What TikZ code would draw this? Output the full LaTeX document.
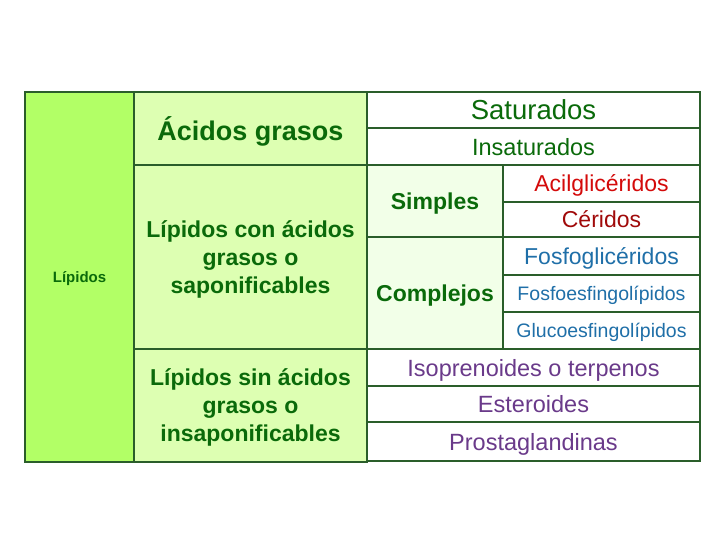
\documentclass[tikz,border=0pt]{standalone}
\usepackage{fontspec}
\setmainfont{Liberation Sans}
\usetikzlibrary{positioning}

\definecolor{lima}{HTML}{B2FF66}
\definecolor{limaclara}{HTML}{DDFFB2}
\definecolor{verdepalido}{HTML}{F2FFE8}
\definecolor{borde}{HTML}{2A5E2A}
\definecolor{verdetexto}{HTML}{0A6A0A}
\definecolor{rojo}{HTML}{D40A0A}
\definecolor{granate}{HTML}{A00A0A}
\definecolor{azul}{HTML}{1F6FA8}
\definecolor{morado}{HTML}{6A3A8A}

\newcommand{\tam}[2]{\fontsize{#1}{#2}\selectfont}

\tikzset{
  cell/.style={draw=borde, line width=1.2pt, anchor=north west, inner sep=0pt, outer sep=0pt, align=center, text depth=0pt},
  hoja/.style={cell, fill=white, minimum width=333pt}
}

\begin{document}
\begin{tikzpicture}[x=1pt,y=-1pt]
        \useasboundingbox (0,0) rectangle (720,540);
        % left column
        \node[cell, fill=lima, minimum width=109pt, minimum height=370pt, text=verdetexto, font=\tam{15}{18}\bfseries] (lip) at (25,92) {Lípidos};
        % second column
        \node[cell, fill=limaclara, minimum width=233pt, minimum height=73pt, text=verdetexto, font=\tam{27}{32}\bfseries] (acidos) at (134,92) {Ácidos grasos};
        \node[cell, fill=limaclara, minimum width=233pt, minimum height=184pt, text=verdetexto, font=\tam{23}{28}\bfseries] (con) at (134,165) {Lípidos con ácidos\\ grasos o\\ saponificables};
        \node[cell, fill=limaclara, minimum width=233pt, minimum height=113pt, text=verdetexto, font=\tam{23}{28}\bfseries] (sin) at (134,349) {Lípidos sin ácidos\\ grasos o\\ insaponificables};
        % acidos grasos
        \node[hoja, minimum height=36pt, text=verdetexto, font=\tam{27.5}{32}] (sat) at (367,92) {Saturados};
        \node[hoja, minimum height=37pt, text=verdetexto, font=\tam{23.5}{28}] (ins) at (367,128) {Insaturados};
        % saponificables
        \node[cell, fill=verdepalido, minimum width=136pt, minimum height=72pt, text=verdetexto, font=\tam{23}{28}\bfseries] (simples) at (367,165) {Simples};
        \node[cell, fill=verdepalido, minimum width=136pt, minimum height=112pt, text=verdetexto, font=\tam{23}{28}\bfseries] (complejos) at (367,237) {Complejos};
        \node[cell, fill=white, minimum width=197pt, minimum height=37pt, text=rojo, font=\tam{23}{28}] (acil) at (503,165) {Acilglicéridos};
        \node[cell, fill=white, minimum width=197pt, minimum height=35pt, text=granate, font=\tam{23}{28}] (cer) at (503,202) {Céridos};
        \node[cell, fill=white, minimum width=197pt, minimum height=38pt, text=azul, font=\tam{23}{28}] (fosfogli) at (503,237) {Fosfoglicéridos};
        \node[cell, fill=white, minimum width=197pt, minimum height=37pt, text=azul, font=\tam{19.5}{23}] (fosfoesf) at (503,275) {Fosfoesfingolípidos};
        \node[cell, fill=white, minimum width=197pt, minimum height=37pt, text=azul, font=\tam{19.5}{23}] (gluco) at (503,312) {Glucoesfingolípidos};
        % insaponificables
        \node[hoja, minimum height=37pt, text=morado, font=\tam{23.5}{28}] (iso) at (367,349) {Isoprenoides o terpenos};
        \node[hoja, minimum height=36pt, text=morado, font=\tam{23.5}{28}] (est) at (367,386) {Esteroides};
        \node[hoja, minimum height=39pt, text=morado, font=\tam{23.5}{28}] (pros) at (367,422) {Prostaglandinas};
\end{tikzpicture}
\end{document}
